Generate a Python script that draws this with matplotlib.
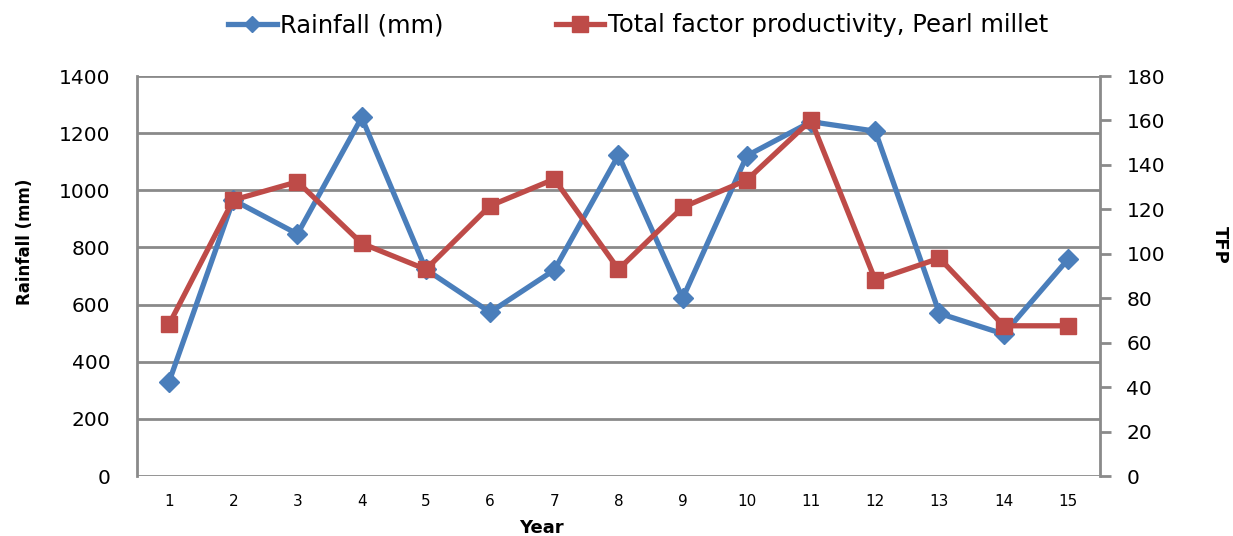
import matplotlib
matplotlib.use("Agg")
import matplotlib.pyplot as plt
from matplotlib.lines import Line2D

years = list(range(1, 16))
rainfall = [330, 966, 847, 1255, 723, 573, 721, 1123, 622, 1121, 1240, 1207, 569, 497, 758]
tfp = [68.3, 124.2, 132.4, 104.7, 93.0, 121.6, 133.6, 93.0, 120.9, 133.2, 160.2, 88.2, 98.0, 67.6, 67.6]
left_ticks = [0, 200, 400, 600, 800, 1000, 1200, 1400]
right_ticks = [0, 20, 40, 60, 80, 100, 120, 140, 160, 180]

blue = "#4A7EBB"
red = "#BE4B48"
grid = "#8A8A8A"

fig = plt.figure(figsize=(12.33, 5.36), dpi=100)
ax = fig.add_axes([0.1111, 0.1119, 0.7810, 0.7463])
ax2 = ax.twinx()

ax.plot(years, rainfall, color=blue, lw=3.8, marker="D", ms=10, zorder=3)
ax2.plot(years, tfp, color=red, lw=3.8, marker="s", ms=12, zorder=3)

ax.set_xlim(0.5, 15.5)
ax.set_ylim(0, 1400)
ax2.set_ylim(0, 180)
ax.set_yticks(left_ticks)
ax2.set_yticks(right_ticks)
ax.set_xticks(years)

ax.yaxis.grid(True, color=grid, lw=2)
ax.set_axisbelow(True)

for a in (ax, ax2):
    for s in a.spines.values():
        s.set_visible(False)
ax.spines["left"].set_visible(True)
ax.spines["left"].set_color(grid)
ax.spines["left"].set_linewidth(2)
ax2.spines["right"].set_visible(True)
ax2.spines["right"].set_color(grid)
ax2.spines["right"].set_linewidth(2)

ax.tick_params(axis="y", length=0, labelsize=14.5, pad=19, colors="black")
ax.tick_params(axis="x", length=0, labelsize=11, pad=13)
ax2.tick_params(axis="y", length=8, width=2, color=grid, labelsize=14.5, pad=11)

ax.set_xlabel("Year", fontsize=13, fontweight="bold", va="center")
ax.xaxis.set_label_coords(0.42, -0.13)
ax.set_ylabel("Rainfall (mm)", fontsize=12, fontweight="bold")
ax2.set_ylabel("TFP", fontsize=13, fontweight="bold", rotation=270, va="center")
ax.yaxis.set_label_coords(-0.107, 0.585)
ax2.yaxis.set_label_coords(1.125, 0.578)

handles = [
    Line2D([], [], color=blue, lw=3.8, marker="D", ms=8),
    Line2D([], [], color=red, lw=3.8, marker="s", ms=11),
]
fig.legend(handles, ["Rainfall (mm)", "Total factor productivity, Pearl millet"],
           loc="center left", bbox_to_anchor=(228 / 1233, 0.953), ncol=2, frameon=False,
           prop={"size": 17.5}, borderpad=0, borderaxespad=0,
           handlelength=2.0, handletextpad=0.15, columnspacing=4.6)

fig.savefig("out.png", dpi=100)
